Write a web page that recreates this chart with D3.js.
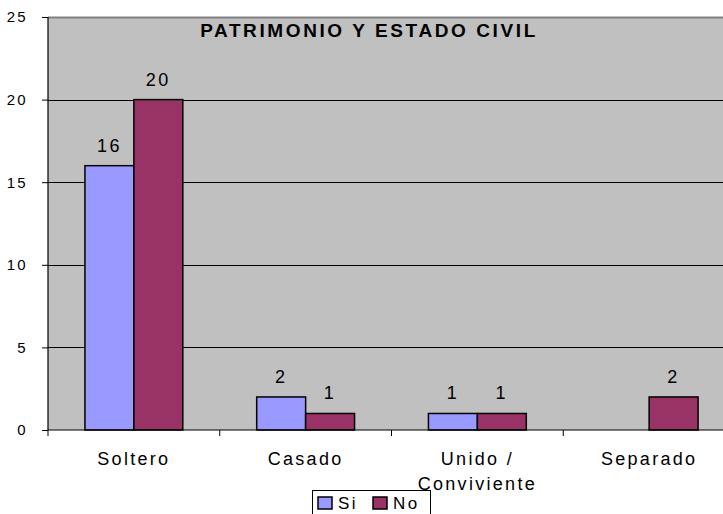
<!DOCTYPE html>
<html>
<head>
<meta charset="utf-8">
<script src="https://cdn.jsdelivr.net/npm/d3@7"></script>
<style>
  body { margin: 0; background: #fff; }
  svg { display: block; font-family: "Liberation Sans", Arial, sans-serif; }
</style>
</head>
<body>
<svg id="chart"></svg>
<script>
const categories = ["Soltero", "Casado", "Unido / Conviviente", "Separado"];
const categoryLines = [["Soltero"], ["Casado"], ["Unido /", "Conviviente"], ["Separado"]];
const seriesNames = ["Si", "No"];
const siValues = [16, 2, 1, 0];
const noValues = [20, 1, 1, 2];
const yTicks = [0, 5, 10, 15, 20, 25];

const width = 723, height = 514;
const plotLeft = 48, plotTop = 17, plotBottom = 430, plotRight = 735;
const colors = ["#9999FF", "#993366"];

const svg = d3.select("#chart").attr("width", width).attr("height", height);

const x = d3.scaleBand().domain(categories).range([plotLeft, plotRight]).paddingInner(0).paddingOuter(0);
const inner = d3.scaleBand().domain(seriesNames).range([0, x.bandwidth()]).paddingInner(0).paddingOuter(0.755);
const y = d3.scaleLinear().domain([0, 25]).range([plotBottom, plotTop]);

// plot background
svg.append("rect")
    .attr("x", plotLeft).attr("y", plotTop)
    .attr("width", plotRight - plotLeft).attr("height", plotBottom - plotTop)
    .attr("fill", "#C0C0C0");

svg.append("line")
    .attr("x1", plotLeft).attr("x2", plotRight)
    .attr("y1", plotTop + 0.5).attr("y2", plotTop + 0.5)
    .attr("stroke", "#808080").attr("stroke-width", 2);

// gridlines
svg.append("g").selectAll("line")
    .data(yTicks.filter(t => t > 0 && t < 25))
    .enter().append("line")
    .attr("x1", plotLeft).attr("x2", plotRight)
    .attr("y1", d => Math.round(y(d)) + 0.5).attr("y2", d => Math.round(y(d)) + 0.5)
    .attr("stroke", "#000").attr("stroke-width", 1);

// bars
const groups = svg.append("g").selectAll("g")
    .data(categories)
    .enter().append("g")
    .attr("transform", d => `translate(${x(d)},0)`);

groups.each(function(c, i) {
    const g = d3.select(this);
    const vals = [siValues[i], noValues[i]];
    vals.forEach((v, j) => {
        if (v === 0) return;
        g.append("rect")
            .attr("x", inner(seriesNames[j]))
            .attr("y", y(v))
            .attr("width", inner.bandwidth())
            .attr("height", y(0) - y(v))
            .attr("fill", colors[j])
            .attr("stroke", "#000")
            .attr("stroke-width", 1.5);
        g.append("text")
            .attr("x", inner(seriesNames[j]) + inner.bandwidth() / 2)
            .attr("y", y(v) - 14)
            .attr("text-anchor", "middle")
            .attr("font-size", "18px")
            .attr("letter-spacing", "2.5px")
            .text(v);
    });
});

// y axis
const yAxis = svg.append("g")
    .attr("transform", `translate(${plotLeft},0)`)
    .call(d3.axisLeft(y).tickValues(yTicks).tickSize(6).tickPadding(14));
yAxis.select(".domain").attr("stroke", "#000").attr("stroke-width", 1.2).attr("d", `M0,${plotTop}V${plotBottom}`);
yAxis.selectAll(".tick line").attr("stroke", "#000");
yAxis.selectAll(".tick text")
    .attr("font-size", "15px")
    .attr("fill", "#000")
    .attr("font-family", "Liberation Sans, Arial, sans-serif")
    .attr("letter-spacing", "2.3px");

// x axis
svg.append("line")
    .attr("x1", plotLeft).attr("x2", plotRight)
    .attr("y1", plotBottom).attr("y2", plotBottom)
    .attr("stroke", "#000").attr("stroke-width", 1.2);
svg.append("g").selectAll("line")
    .data(categories)
    .enter().append("line")
    .attr("x1", d => x(d)).attr("x2", d => x(d))
    .attr("y1", plotBottom).attr("y2", plotBottom + 6)
    .attr("stroke", "#000");

const xl = svg.append("g").selectAll("text")
    .data(categories)
    .enter().append("text")
    .attr("x", d => x(d) + x.bandwidth() / 2)
    .attr("y", 465)
    .attr("text-anchor", "middle")
    .attr("font-size", "18px")
    .attr("letter-spacing", "2.3px");
xl.each(function(d, i) {
    d3.select(this).selectAll("tspan")
        .data(categoryLines[i])
        .enter().append("tspan")
        .attr("x", x(d) + x.bandwidth() / 2)
        .attr("dy", (t, k) => k === 0 ? 0 : 25)
        .text(t => t);
});

// title
svg.append("text")
    .attr("x", 369).attr("y", 37)
    .attr("text-anchor", "middle")
    .attr("font-size", "19px")
    .attr("font-weight", "bold")
    .attr("letter-spacing", "2.6px")
    .text("PATRIMONIO Y ESTADO CIVIL");

// legend (box runs past the bottom edge, as in the original)
const legend = svg.append("g").attr("transform", "translate(312,490)");
legend.append("rect")
    .attr("x", 0.5).attr("y", 0.5)
    .attr("width", 118).attr("height", 40)
    .attr("fill", "#fff").attr("stroke", "#000");
seriesNames.forEach((s, i) => {
    const lx = 6 + i * 55;
    legend.append("rect")
        .attr("x", lx).attr("y", 7)
        .attr("width", 14).attr("height", 12)
        .attr("fill", colors[i]).attr("stroke", "#000").attr("stroke-width", 1.5);
    legend.append("text")
        .attr("x", lx + 20).attr("y", 19)
        .attr("font-size", "17px")
        .attr("letter-spacing", "2.5px")
        .text(s);
});
</script>
</body>
</html>
